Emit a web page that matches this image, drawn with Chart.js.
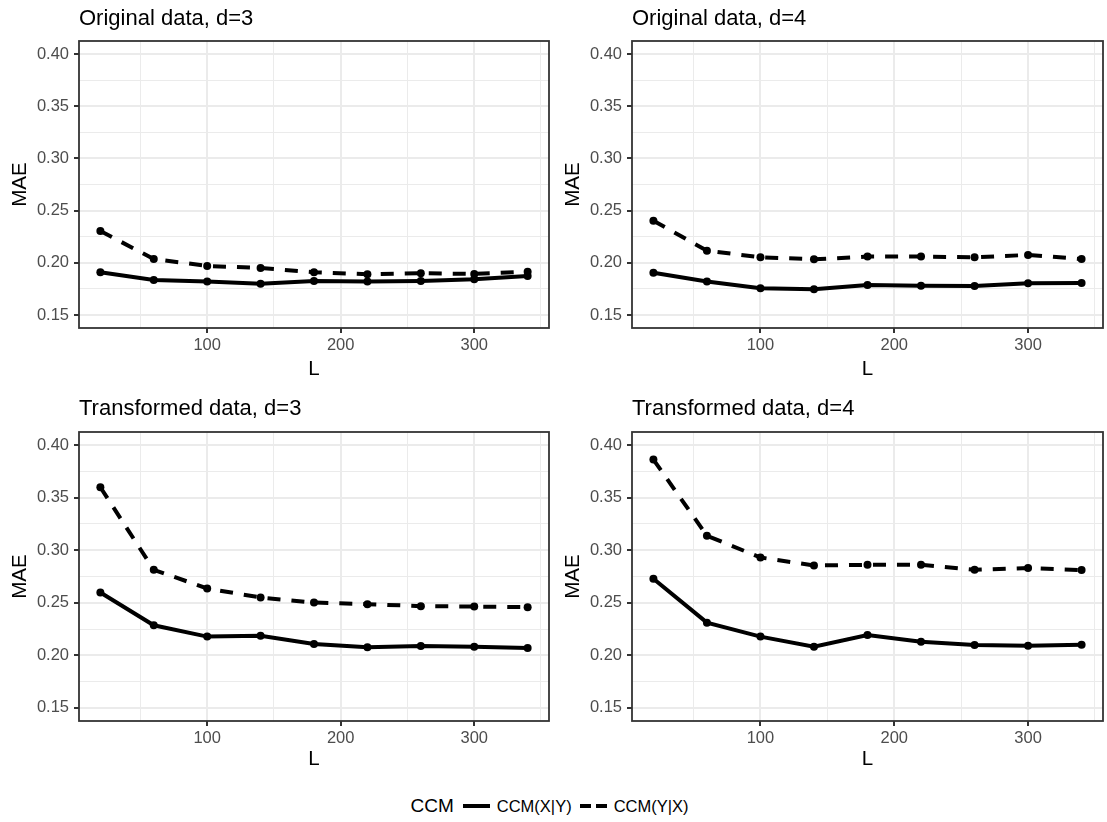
<!DOCTYPE html>
<html><head><meta charset="utf-8">
<script src="https://cdn.jsdelivr.net/npm/chart.js@4.4.1/dist/chart.umd.min.js"></script>
<style>
html,body{margin:0;padding:0;background:#fff;}
body{width:1107px;height:822px;position:relative;overflow:hidden;font-family:"Liberation Sans",Arial,Helvetica,sans-serif;}
.panel{position:absolute;}
#legend{position:absolute;left:0;top:786px;width:1107px;height:40px;display:flex;justify-content:center;align-items:center;color:#000;}
#legend .ttl{font-size:19px;margin-right:9px;}
#legend .lab{font-size:16.5px;margin-left:7px;margin-right:8px;}
#legend .key{display:inline-block;width:27px;height:4px;}
#legend .solid{background:#000;}
#legend .dash{background:linear-gradient(90deg,#000 0 11px,transparent 11px 16px,#000 16px 27px);}
</style></head><body>
<div class="panel" style="left:0;top:0"><canvas id="c1" width="553" height="390"></canvas></div>
<div class="panel" style="left:553px;top:0"><canvas id="c2" width="554" height="390"></canvas></div>
<div class="panel" style="left:0;top:390px"><canvas id="c3" width="553" height="390"></canvas></div>
<div class="panel" style="left:553px;top:390px"><canvas id="c4" width="554" height="390"></canvas></div>
<div id="legend"><span class="ttl">CCM</span><span class="key solid"></span><span class="lab">CCM(X|Y)</span><span class="key dash"></span><span class="lab">CCM(Y|X)</span></div>
<script>
// ---- data ----
const L = [20, 60, 100, 140, 180, 220, 260, 300, 340];
const orig3_XY  = [0.1910, 0.1835, 0.1820, 0.1800, 0.1826, 0.1820, 0.1826, 0.1842, 0.1874];
const orig3_YX  = [0.2305, 0.2036, 0.1970, 0.1950, 0.1910, 0.1890, 0.1900, 0.1893, 0.1915];
const orig4_XY  = [0.1905, 0.1820, 0.1756, 0.1746, 0.1787, 0.1780, 0.1778, 0.1804, 0.1807];
const orig4_YX  = [0.2403, 0.2116, 0.2053, 0.2033, 0.2059, 0.2059, 0.2053, 0.2075, 0.2036];
const trans3_XY = [0.2597, 0.2286, 0.2178, 0.2187, 0.2108, 0.2076, 0.2089, 0.2082, 0.2070];
const trans3_YX = [0.3599, 0.2814, 0.2636, 0.2550, 0.2502, 0.2487, 0.2468, 0.2464, 0.2458];
const trans4_XY = [0.2728, 0.2311, 0.2178, 0.2082, 0.2194, 0.2130, 0.2098, 0.2092, 0.2101];
const trans4_YX = [0.3863, 0.3138, 0.2931, 0.2855, 0.2861, 0.2861, 0.2814, 0.2830, 0.2811];
const titles = ['Original data, d=3', 'Original data, d=4', 'Transformed data, d=3', 'Transformed data, d=4'];
const seriesNames = ['CCM(X|Y)', 'CCM(Y|X)'];
const xBreaks = [100, 200, 300];
const xMinor = [50, 150, 250, 350];
const yBreaks = [0.15, 0.20, 0.25, 0.30, 0.35, 0.40];
const yMinor = [0.175, 0.225, 0.275, 0.325, 0.375];
const yLabels = ['0.15', '0.20', '0.25', '0.30', '0.35', '0.40'];

const FAMILY = '"Liberation Sans", Arial, Helvetica, sans-serif';
Chart.defaults.font.family = FAMILY;

const framePlugin = {
  id: 'frame',
  afterDraw(chart, args, opts) {
    const {ctx, chartArea: a} = chart;
    ctx.save();
    ctx.strokeStyle = '#333333';
    ctx.lineWidth = 1.8;
    ctx.strokeRect(a.left, a.top, a.right - a.left, a.bottom - a.top);
    ctx.fillStyle = '#000';
    ctx.font = '22px ' + FAMILY;
    ctx.textAlign = 'left';
    ctx.textBaseline = 'alphabetic';
    ctx.fillText(opts.text, a.left, opts.y);
    ctx.restore();
  }
};

function isMajor(list, v) { return list.some(b => Math.abs(b - v) < 1e-9); }

function makePanel(id, title, xy, yx, top, axisH) {
  new Chart(document.getElementById(id), {
    type: 'line',
    data: {
      datasets: [
        { label: seriesNames[0], data: L.map((x, i) => ({x, y: xy[i]})),
          borderColor: '#000', borderWidth: 4, pointRadius: 4, pointBorderWidth: 0,
          pointBackgroundColor: '#000', tension: 0 },
        { label: seriesNames[1], data: L.map((x, i) => ({x, y: yx[i]})),
          borderColor: '#000', borderWidth: 4, borderDash: [13, 11], pointRadius: 4, pointBorderWidth: 0,
          pointBackgroundColor: '#000', tension: 0 }
      ]
    },
    options: {
      responsive: false, animation: false,
      layout: { padding: { top: top, right: 4, left: 0, bottom: 0 } },
      plugins: { legend: { display: false }, tooltip: { enabled: false },
                 frame: { text: title, y: 25 } },
      scales: {
        x: {
          type: 'linear', min: 4, max: 356,
          afterBuildTicks: ax => { ax.ticks = xMinor.concat(xBreaks).sort((a, b) => a - b).map(v => ({value: v})); },
          afterFit: ax => { ax.height = axisH; },
          border: { display: false },
          grid: {
            color: '#EBEBEB',
            lineWidth: c => isMajor(xBreaks, c.tick.value) ? 2 : 1,
            tickLength: 5,
            tickColor: c => isMajor(xBreaks, c.tick.value) ? '#333333' : 'rgba(0,0,0,0)',
            tickWidth: 2
          },
          ticks: { autoSkip: false, maxRotation: 0, padding: 3, color: '#4D4D4D', font: { size: 16.5 },
                   callback: v => isMajor(xBreaks, v) ? String(v) : '' },
          title: { display: true, text: 'L', color: '#000', font: { size: 20.5 }, padding: { top: 0, bottom: 8 } }
        },
        y: {
          type: 'linear', min: 0.1375, max: 0.4125,
          afterBuildTicks: ax => { ax.ticks = yMinor.concat(yBreaks).sort((a, b) => a - b).map(v => ({value: v})); },
          afterFit: ax => { ax.width = 79; },
          border: { display: false },
          grid: {
            color: '#EBEBEB',
            lineWidth: c => isMajor(yBreaks, c.tick.value) ? 2 : 1,
            tickLength: 5,
            tickColor: c => isMajor(yBreaks, c.tick.value) ? '#333333' : 'rgba(0,0,0,0)',
            tickWidth: 2
          },
          ticks: { autoSkip: false, padding: 5, color: '#4D4D4D', font: { size: 16.5 },
                   callback: v => { const k = yBreaks.findIndex(b => Math.abs(b - v) < 1e-9); return k >= 0 ? yLabels[k] : ''; } },
          title: { display: true, text: 'MAE', color: '#000', font: { size: 20.5 }, padding: { top: 8, bottom: 0 } }
        }
      }
    },
    plugins: [framePlugin]
  });
}

makePanel('c1', titles[0], orig3_XY, orig3_YX, 41, 62);
makePanel('c2', titles[1], orig4_XY, orig4_YX, 41, 62);
makePanel('c3', titles[2], trans3_XY, trans3_YX, 42, 59);
makePanel('c4', titles[3], trans4_XY, trans4_YX, 42, 59);
</script>
</body></html>
